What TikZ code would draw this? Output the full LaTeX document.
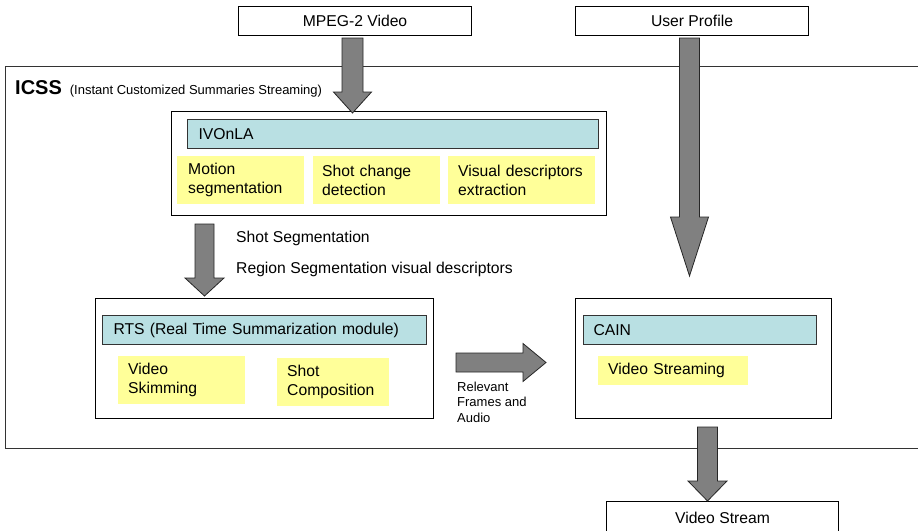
\documentclass[tikz,border=0pt]{standalone}
\usepackage{fontspec}
\setmainfont{Liberation Sans}
\usetikzlibrary{calc}

\definecolor{headfill}{RGB}{185,224,227}
\definecolor{notefill}{RGB}{255,255,153}
\definecolor{arrowfill}{RGB}{128,128,128}

\newcommand\mainsize{\fontsize{15.7}{19}\selectfont}
\newcommand\smallsize{\fontsize{13}{15.5}\selectfont}

% block arrow pointing down: start, point at tip level, shaft half width, head half width, head length
\newcommand\vblockarrow[5]{%
  \draw[blockarrow] let \p1=(#1), \p2=(#2) in
    (\x1-#3pt,\y1) -- (\x1+#3pt,\y1) -- (\x1+#3pt,\y2+#5pt) -- (\x1+#4pt,\y2+#5pt)
    -- (\x1,\y2) -- (\x1-#4pt,\y2+#5pt) -- (\x1-#3pt,\y2+#5pt) -- cycle;}
% block arrow pointing right
\newcommand\hblockarrow[5]{%
  \draw[blockarrow] let \p1=(#1), \p2=(#2) in
    (\x1,\y1+#3pt) -- (\x2-#5pt,\y1+#3pt) -- (\x2-#5pt,\y1+#4pt) -- (\x2,\y1)
    -- (\x2-#5pt,\y1-#4pt) -- (\x2-#5pt,\y1-#3pt) -- (\x1,\y1-#3pt) -- cycle;}

\tikzset{
  frame/.style={draw=black!80, line width=1.2pt, inner sep=0pt, anchor=north west},
  box/.style={draw=black, line width=1pt, fill=white, inner sep=0pt, anchor=north west, font=\mainsize},
  header/.style={draw=black!80, line width=1pt, fill=headfill, inner sep=0pt, inner xsep=11pt,
    minimum height=29pt, anchor=north west, align=left, font=\mainsize},
  note/.style={fill=notefill, inner ysep=0pt, inner xsep=11pt, anchor=north west, align=left, font=\mainsize},
  blockarrow/.style={draw=black!85, line width=0.8pt, fill=arrowfill, line join=miter},
  label/.style={anchor=west, inner sep=0pt, font=\mainsize},
}

\begin{document}
\begin{tikzpicture}[x=1pt, y=-1pt]
  \clip (0,0) rectangle (918,530);

  % outer system frame
  \node[frame, minimum width=930pt, minimum height=382pt] (icss) at (5,66) {};
  \node[anchor=base west, inner sep=0pt] (icsslabel) at (15,94)
    {{\fontsize{20}{24}\selectfont\bfseries ICSS}\hspace{8pt}{\fontsize{13}{15.5}\selectfont (Instant Customized Summaries Streaming)}};

  % inputs
  \node[box, minimum width=233pt, minimum height=29pt] (mpeg) at (238,6) {MPEG-2 Video};
  \node[box, minimum width=233pt, minimum height=29pt] (profile) at (575,6) {User Profile};

  % IVOnLA module
  \node[box, minimum width=435pt, minimum height=104pt] (ivonla) at (171,111) {};
  \node[header, text width=389pt] (ivhead) at (187,119) {IVOnLA};
  \node[note, text width=105pt, minimum height=48pt] (motion) at (177,156) {Motion\\segmentation};
  \node[note, minimum height=48pt, inner xsep=9pt, text width=109pt] (shotchange) at (313,156) {Shot change\\detection};
  \node[note, text width=127pt, minimum height=48pt, inner xsep=10pt] (visual) at (448,156) {\mbox{Visual descriptors}\\extraction};

  % RTS module
  \node[box, minimum width=338pt, minimum height=120pt] (rts) at (95,298) {};
  \node[header, text width=302pt] (rtshead) at (102,315) {RTS (Real Time Summarization module)};
  \node[note, text width=107pt, minimum height=48pt, inner xsep=10pt] (skim) at (118,356) {Video\\Skimming};
  \node[note, text width=92pt, minimum height=48pt, inner xsep=10pt] (comp) at (277,358) {Shot\\Composition};

  % CAIN module
  \node[box, minimum width=256pt, minimum height=120pt] (cain) at (575,298) {};
  \node[header, text width=213pt, inner xsep=10pt] (cainhead) at (583,315) {CAIN};
  \node[note, text width=130pt, minimum height=29pt, inner xsep=10pt] (streaming) at (598,356) {Video Streaming};

  % output
  \node[box, minimum width=232pt, minimum height=32pt] (vstream) at (606,501) {Video Stream};

  % flow labels
  \node[label] (shotseg) at (236,238) {Shot Segmentation};
  \node[label] (regseg) at (236,269) {Region Segmentation visual descriptors};
  \node[anchor=north west, inner sep=0pt, align=left, font=\smallsize] (relevant) at (457,381.5)
    {Relevant\\Frames and\\Audio};

  % block arrows
  \coordinate (profileEnd) at (689,276);
  \vblockarrow{$(mpeg.south)+(-2.5,2)$}{$(ivonla.north)+(0,2)$}{10.5}{19}{21}
  \vblockarrow{$(profile.south)+(-2.5,2)$}{profileEnd}{10}{19}{59}
  \vblockarrow{$(ivonla.south west)+(33.5,8)$}{$(rts.north)+(0,-2)$}{9.5}{19.5}{18}
  \hblockarrow{$(rts.east)+(22,4)$}{$(cain.west)+(-29,4)$}{9.5}{19}{23}
  \vblockarrow{$(cain.south)+(4,8)$}{vstream.north}{10}{19.5}{20}
\end{tikzpicture}
\end{document}
